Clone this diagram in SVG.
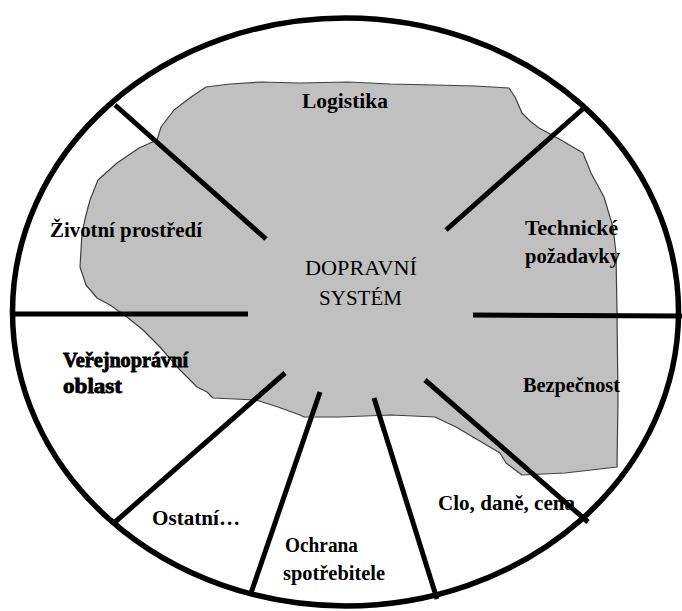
<svg xmlns="http://www.w3.org/2000/svg" width="682" height="611" viewBox="0 0 682 611">
<style>
.lbl{font-family:"Liberation Serif","DejaVu Serif","Times New Roman",serif;font-size:20px;font-weight:bold;fill:#000}
.ln{stroke:#000;stroke-width:5;fill:none}
</style>
<rect width="682" height="611" fill="#fff"/>
<g id="system">
<path d="M206,87 L230,84 L261,82 L300,83 L348,82 L390,84 L435,85 L475,86 L509,88 L515,97 L522,113 L530,121 L539,128 L561,140 L583,153 L591,173 L604,197 L613,227 L616,253 L617,313 L618,400 L617,467 L565,473 L522,475 L506,463 L500,453 L478,440 L456,427 L435,417 L391,415 L339,417 L304,417 L300,415 L278,407 L256,400 L213,398 L207,392 L197,387 L180,370 L160,347 L143,330 L127,317 L110,305 L97,298 L86,285 L80,267 L81,250 L82,233 L86,215 L90,200 L98,180 L117,163 L139,148 L157,140 L161,127 L174,110 L191,97 Z" fill="#c0c0c0" stroke="#404040" stroke-width="1.2" stroke-linejoin="round"/>
<text class="lbl" x="305" y="275" textLength="112" lengthAdjust="spacingAndGlyphs" style="font-weight:normal">DOPRAVNÍ</text>
<text class="lbl" x="319" y="305" textLength="83" lengthAdjust="spacingAndGlyphs" style="font-weight:normal">SYSTÉM</text>
</g>
<g id="ring">
<ellipse cx="345.5" cy="312" rx="333" ry="294" fill="none" stroke="#000" stroke-width="5.5"/>
</g>
<g id="connectors">
<line class="ln" x1="115" y1="105" x2="266" y2="239"/>
<line class="ln" x1="585" y1="107" x2="446" y2="230"/>
<line class="ln" x1="12" y1="314" x2="248" y2="314"/>
<line class="ln" x1="473" y1="315" x2="682" y2="316"/>
<line class="ln" x1="285" y1="373" x2="115" y2="522"/>
<line class="ln" x1="320" y1="392" x2="250" y2="596"/>
<line class="ln" x1="374" y1="398" x2="437" y2="599"/>
<line class="ln" x1="425" y1="380" x2="588" y2="522"/>
</g>
<g id="logistika"><text class="lbl" x="302" y="108" textLength="86" lengthAdjust="spacingAndGlyphs">Logistika</text></g>
<g id="technicke"><text class="lbl" x="525" y="235" textLength="93" lengthAdjust="spacingAndGlyphs">Technické</text><text class="lbl" x="525" y="263" textLength="95" lengthAdjust="spacingAndGlyphs">požadavky</text></g>
<g id="zivotni"><text class="lbl" x="50" y="237" textLength="152" lengthAdjust="spacingAndGlyphs">Životní prostředí</text></g>
<g id="verejnopravni"><text class="lbl" x="63" y="367" textLength="125" lengthAdjust="spacingAndGlyphs" stroke="#000" stroke-width="0.8">Veřejnoprávní</text><text class="lbl" x="63" y="393" textLength="59" lengthAdjust="spacingAndGlyphs" stroke="#000" stroke-width="0.8">oblast</text></g>
<g id="bezpecnost"><text class="lbl" x="523" y="392" textLength="97" lengthAdjust="spacingAndGlyphs">Bezpečnost</text></g>
<g id="ostatni"><text class="lbl" x="152" y="525" textLength="88" lengthAdjust="spacingAndGlyphs">Ostatní…</text></g>
<g id="ochrana"><text class="lbl" x="285" y="552" textLength="73" lengthAdjust="spacingAndGlyphs">Ochrana</text><text class="lbl" x="283" y="580" textLength="102" lengthAdjust="spacingAndGlyphs">spotřebitele</text></g>
<g id="clo"><text class="lbl" x="438" y="510" textLength="137" lengthAdjust="spacingAndGlyphs">Clo, daně, cena</text></g>
</svg>
